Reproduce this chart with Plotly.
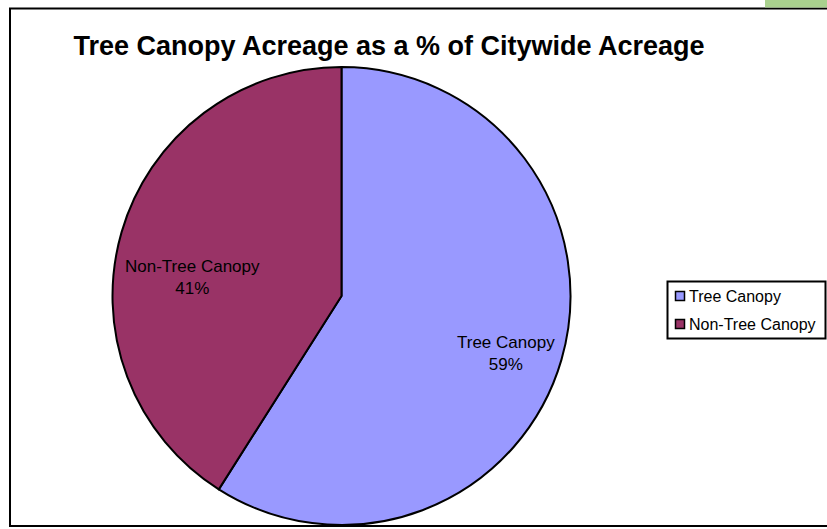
import plotly.graph_objects as go

labels = ["Tree Canopy", "Non-Tree Canopy"]
values = [59, 41]
colors = ["#9999FF", "#993366"]
title_text = "Tree Canopy Acreage as a % of Citywide Acreage"

W, H = 827, 529


def px(x):
    return x / W


def py(y):
    return 1 - y / H


fig = go.Figure()
fig.add_trace(go.Pie(
    labels=labels,
    values=values,
    sort=False,
    direction="clockwise",
    rotation=0,
    marker=dict(colors=colors, line=dict(color="black", width=2)),
    textinfo="none",
    domain=dict(x=[px(108), px(575)], y=[py(525), py(67)]),
    hoverinfo="skip",
    showlegend=False,
))

total = sum(values)
# slice labels placed inside each slice (label + percent)
label_pos = [(506, 353), (192, 277)]
annotations = []
for lab, val, (lx, ly) in zip(labels, values, label_pos):
    annotations.append(dict(
        x=px(lx), y=py(ly), xref="paper", yref="paper",
        text=f"{lab}<br>{round(100 * val / total)}%",
        showarrow=False, xanchor="center", yanchor="middle",
        font=dict(family="Liberation Sans, Arial", size=17, color="black"),
        align="center",
    ))

# legend (manual, matching the reference's compact style)
shapes = [
    dict(type="rect", xref="paper", yref="paper",
         x0=px(10), x1=1.05, y0=py(526), y1=py(8.5),
         line=dict(color="black", width=2), fillcolor="rgba(0,0,0,0)", layer="below"),
    dict(type="rect", xref="paper", yref="paper",
         x0=px(765), x1=1, y0=py(7.5), y1=1,
         line=dict(width=0), fillcolor="#A9D18E", layer="above"),
    dict(type="rect", xref="paper", yref="paper",
         x0=px(667.5), x1=px(825.5), y0=py(338.5), y1=py(281.5),
         line=dict(color="black", width=2), fillcolor="white", layer="above"),
]
leg_y = [296, 324]
for lab, col, yy in zip(labels, colors, leg_y):
    shapes.append(dict(type="rect", xref="paper", yref="paper",
                       x0=px(675.5), x1=px(684.5), y0=py(yy + 4.5), y1=py(yy - 4.5),
                       line=dict(color="black", width=1.5), fillcolor=col, layer="above"))
    annotations.append(dict(
        x=px(687), y=py(yy), xref="paper", yref="paper",
        text=lab, showarrow=False, xanchor="left", yanchor="middle",
        font=dict(family="Liberation Sans, Arial", size=16, color="black"),
    ))

fig.update_layout(
    width=W, height=H,
    margin=dict(l=0, r=0, t=0, b=0),
    paper_bgcolor="white",
    plot_bgcolor="white",
    title=dict(
        text="<b>" + title_text + "</b>",
        x=px(389), xanchor="center",
        y=py(46), yanchor="middle",
        font=dict(family="Liberation Sans, Arial", size=27, color="black"),
    ),
    showlegend=False,
    shapes=shapes,
    annotations=annotations,
)

fig.write_html(
    "out.html",
    config={"displayModeBar": False},
    post_script="document.body.style.margin='0px';document.body.style.overflow='hidden';",
)
